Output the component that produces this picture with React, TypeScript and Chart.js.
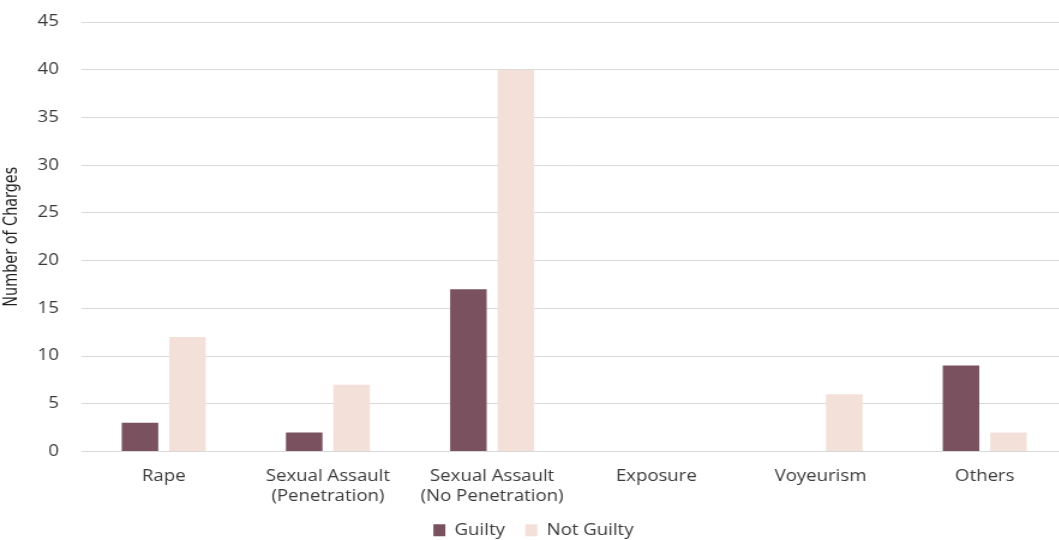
import React, { useEffect, useRef } from "react";
import { Chart, registerables } from "chart.js";

Chart.register(...registerables);

const categories: (string | string[])[] = [
  "Rape",
  ["Sexual Assault", "(Penetration)"],
  ["Sexual Assault", "(No Penetration)"],
  "Exposure",
  "Voyeurism",
  "Others",
];
const guilty = [3, 2, 17, 0, 0, 9];
const notGuilty = [12, 7, 40, 0, 6, 2];
const yTicks = [0, 5, 10, 15, 20, 25, 30, 35, 40, 45];

const GUILTY_COLOR = "#7a525f";
const NOT_GUILTY_COLOR = "#f3e0d9";
const TEXT_COLOR = "#3a3a3a";
const FONT = "'Open Sans', 'DejaVu Sans', sans-serif";

// The drawing is laid out narrower and widened horizontally as a whole.
const STRETCH_X = 1.2;
const CANVAS_W = 889;
const CANVAS_H = 548;

export default function App() {
  const canvasRef = useRef<HTMLCanvasElement | null>(null);

  useEffect(() => {
    const canvas = canvasRef.current;
    if (!canvas) return;
    const chart = new Chart(canvas, {
      type: "bar",
      data: {
        labels: categories,
        datasets: [
          {
            label: "Guilty",
            data: guilty,
            backgroundColor: GUILTY_COLOR,
            categoryPercentage: 0.578,
            barPercentage: 0.77,
          },
          {
            label: "Not Guilty",
            data: notGuilty,
            backgroundColor: NOT_GUILTY_COLOR,
            categoryPercentage: 0.578,
            barPercentage: 0.77,
          },
        ],
      },
      options: {
        responsive: false,
        animation: false,
        layout: { padding: { top: 22, left: 0, right: 0, bottom: 0 } },
        plugins: {
          tooltip: { enabled: false },
          legend: {
            position: "bottom",
            labels: {
              boxWidth: 10,
              boxHeight: 12,
              padding: 17,
              color: TEXT_COLOR,
              font: { family: FONT, size: 15.5 },
            },
          },
        },
        scales: {
          x: {
            grid: { display: false },
            border: { display: false },
            ticks: {
              color: TEXT_COLOR,
              font: { family: FONT, size: 15.5, lineHeight: 1.23 },
              padding: 8,
              maxRotation: 0,
              autoSkip: false,
            },
            afterFit: (scale: any) => {
              scale.height = 54;
            },
          },
          y: {
            min: 0,
            max: 45,
            afterBuildTicks: (scale: any) => {
              scale.ticks = yTicks.map((v) => ({ value: v }));
            },
            grid: { color: "#d9d9d9", lineWidth: 1, drawTicks: false },
            border: { display: false },
            ticks: {
              color: TEXT_COLOR,
              font: { family: FONT, size: 15.5 },
              padding: 19,
            },
            title: {
              display: true,
              text: "Number of Charges",
              color: "#1e1e1e",
              font: { family: "'Liberation Sans Narrow', 'DejaVu Sans Condensed', sans-serif", size: 16 },
              padding: { top: 0, bottom: 0 },
            },
            afterFit: (scale: any) => {
              scale.width = 68;
              scale.paddingTop = 0;
              scale.paddingBottom = 0;
            },
          },
        },
      },
    });
    return () => chart.destroy();
  }, []);

  return (
    <div
      style={{
        position: "fixed",
        left: 0,
        top: 0,
        width: 1059,
        height: 540,
        overflow: "hidden",
        background: "#fff",
      }}
    >
      <div style={{ transform: `scaleX(${STRETCH_X})`, transformOrigin: "0 0", width: CANVAS_W }}>
        <canvas ref={canvasRef} width={CANVAS_W} height={CANVAS_H} style={{ display: "block" }} />
      </div>
    </div>
  );
}
